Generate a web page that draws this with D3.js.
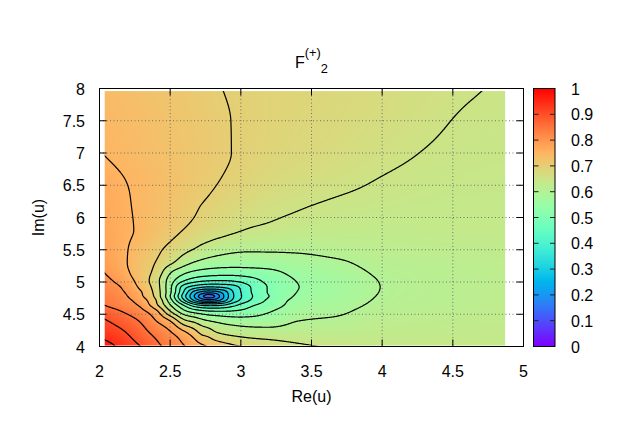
<!DOCTYPE html>
<html><head><meta charset="utf-8">
<script src="https://cdn.jsdelivr.net/npm/d3@7"></script>
<style>
body{margin:0;background:#fff}
svg{display:block}
text{font-family:"Liberation Sans",Arial,sans-serif;font-size:16px;fill:#000}
</style>
</head><body>
<svg id="chart" width="623" height="436"></svg>
<script>
// ---- data ----
const reU = [2.0, 2.15, 2.3, 2.4, 2.5, 2.6, 2.67, 2.72, 2.77, 2.82, 2.87, 2.95, 3.05, 3.2, 3.4, 3.7, 4.0, 4.3, 4.6, 4.9];
const imU = [4.0, 4.2, 4.4, 4.55, 4.65, 4.72, 4.78, 4.84, 4.92, 5.02, 5.15, 5.3, 5.5, 5.8, 6.2, 6.6, 7.0, 7.5, 8.0];
const F_row_400 = [0.985, 0.939, 0.897, 0.863, 0.832, 0.803, 0.779, 0.763, 0.748, 0.737, 0.726, 0.709, 0.694, 0.678, 0.659, 0.644, 0.639, 0.637, 0.636, 0.635];
const F_row_420 = [0.935, 0.912, 0.868, 0.838, 0.808, 0.765, 0.727, 0.695, 0.682, 0.66, 0.648, 0.638, 0.63, 0.626, 0.625, 0.626, 0.628, 0.63, 0.631, 0.632];
const F_row_440 = [0.912, 0.88, 0.842, 0.80, 0.748, 0.66, 0.635, 0.615, 0.60, 0.59, 0.582, 0.575, 0.572, 0.575, 0.599, 0.607, 0.621, 0.624, 0.627, 0.628];
const F_row_455 = [0.88, 0.85, 0.81, 0.76, 0.65, 0.56, 0.525, 0.51, 0.50, 0.497, 0.497, 0.502, 0.515, 0.545, 0.58, 0.594, 0.614, 0.619, 0.622, 0.626];
const F_row_465 = [0.855, 0.825, 0.785, 0.71, 0.60, 0.485, 0.41, 0.38, 0.37, 0.372, 0.385, 0.43, 0.48, 0.52, 0.568, 0.586, 0.608, 0.615, 0.618, 0.624];
const F_row_472 = [0.845, 0.82, 0.77, 0.70, 0.57, 0.40, 0.29, 0.235, 0.215, 0.225, 0.265, 0.365, 0.44, 0.51, 0.561, 0.581, 0.605, 0.613, 0.618, 0.623];
const F_row_478 = [0.84, 0.815, 0.755, 0.685, 0.55, 0.367, 0.25, 0.17, 0.12, 0.155, 0.235, 0.35, 0.43, 0.50, 0.555, 0.578, 0.603, 0.612, 0.617, 0.622];
const F_row_484 = [0.835, 0.808, 0.75, 0.68, 0.56, 0.39, 0.28, 0.235, 0.215, 0.225, 0.26, 0.355, 0.435, 0.505, 0.551, 0.5756, 0.6016, 0.612, 0.617, 0.622];
const F_row_492 = [0.825, 0.80, 0.735, 0.675, 0.562, 0.42, 0.375, 0.355, 0.345, 0.347, 0.355, 0.38, 0.44, 0.505, 0.548, 0.5744, 0.6009, 0.611, 0.617, 0.622];
const F_row_502 = [0.82, 0.785, 0.725, 0.67, 0.575, 0.50, 0.47, 0.458, 0.452, 0.449, 0.449, 0.455, 0.475, 0.515, 0.552, 0.5762, 0.602, 0.612, 0.617, 0.622];
const F_row_515 = [0.808, 0.77, 0.72, 0.685, 0.605, 0.56, 0.54, 0.532, 0.527, 0.524, 0.522, 0.522, 0.527, 0.538, 0.564, 0.583, 0.6064, 0.613, 0.618, 0.623];
const F_row_530 = [0.795, 0.762, 0.722, 0.698, 0.66, 0.618, 0.597, 0.587, 0.58, 0.576, 0.573, 0.571, 0.571, 0.574, 0.582, 0.595, 0.613, 0.616, 0.62, 0.625];
const F_row_550 = [0.785, 0.76, 0.73, 0.71, 0.687, 0.662, 0.647, 0.635, 0.626, 0.619, 0.614, 0.608, 0.605, 0.605, 0.606, 0.614, 0.62, 0.623, 0.625, 0.628];
const F_row_580 = [0.777, 0.76, 0.743, 0.728, 0.713, 0.698, 0.688, 0.681, 0.675, 0.669, 0.664, 0.656, 0.647, 0.641, 0.635, 0.631, 0.63, 0.631, 0.632, 0.633];
const F_row_620 = [0.77, 0.758, 0.742, 0.734, 0.724, 0.713, 0.706, 0.70, 0.695, 0.69, 0.686, 0.68, 0.673, 0.662, 0.654, 0.645, 0.64, 0.637, 0.636, 0.636];
const F_row_660 = [0.763, 0.752, 0.742, 0.735, 0.728, 0.72, 0.715, 0.711, 0.707, 0.703, 0.699, 0.693, 0.687, 0.677, 0.669, 0.659, 0.649, 0.643, 0.64, 0.639];
const F_row_700 = [0.751, 0.743, 0.736, 0.73, 0.725, 0.72, 0.716, 0.713, 0.71, 0.707, 0.704, 0.699, 0.694, 0.686, 0.679, 0.669, 0.658, 0.649, 0.643, 0.641];
const F_row_750 = [0.745, 0.738, 0.732, 0.727, 0.722, 0.717, 0.714, 0.711, 0.708, 0.705, 0.703, 0.699, 0.695, 0.69, 0.684, 0.675, 0.666, 0.656, 0.647, 0.643];
const F_row_800 = [0.74, 0.733, 0.727, 0.722, 0.718, 0.714, 0.71, 0.707, 0.705, 0.702, 0.70, 0.697, 0.693, 0.69, 0.687, 0.679, 0.671, 0.662, 0.653, 0.646];
const contourLevels = [0.15, 0.2, 0.25, 0.3, 0.35, 0.4, 0.45, 0.5, 0.55, 0.6, 0.65, 0.7, 0.75, 0.8, 0.85, 0.9, 0.95];
const xTickValues = [2, 2.5, 3, 3.5, 4, 4.5, 5];
const yTickValues = [4, 4.5, 5, 5.5, 6, 6.5, 7, 7.5, 8];
const cbTickValues = [0, 0.1, 0.2, 0.3, 0.4, 0.5, 0.6, 0.7, 0.8, 0.9, 1];
const heatRe = [2.037, 4.87];
const heatIm = [4.015, 7.96];
const xLabel = "Re(u)", yLabel = "Im(u)";

const F = [F_row_400, F_row_420, F_row_440, F_row_455, F_row_465, F_row_472, F_row_478, F_row_484,
  F_row_492, F_row_502, F_row_515, F_row_530, F_row_550, F_row_580, F_row_620, F_row_660, F_row_700, F_row_750, F_row_800];

// ---- layout ----
const svg = d3.select("#chart");
const x = d3.scaleLinear().domain([2, 5]).range([99.5, 523.5]);
const y = d3.scaleLinear().domain([4, 8]).range([346.5, 88.5]);

function palette(t) {
  t = Math.max(0, Math.min(1, t));
  const r = Math.min(1, Math.abs(2 * t - 0.5));
  const g = Math.max(0, Math.sin(Math.PI * t));
  const b = Math.max(0, Math.cos(Math.PI * t / 2));
  return [Math.round(r * 255), Math.round(g * 255), Math.round(b * 255)];
}
function clamp(v, a, b) { return Math.max(a, Math.min(b, v)); }

// monotone (Steffen) cubic interpolation through the read values
function tangents(xs, ys) {
  const n = xs.length, h = [], d = [], m = new Array(n);
  for (let k = 0; k < n - 1; k++) { h[k] = xs[k + 1] - xs[k]; d[k] = (ys[k + 1] - ys[k]) / h[k]; }
  m[0] = d[0]; m[n - 1] = d[n - 2];
  for (let k = 1; k < n - 1; k++) {
    const p = (d[k - 1] * h[k] + d[k] * h[k - 1]) / (h[k - 1] + h[k]);
    m[k] = (Math.sign(d[k - 1]) + Math.sign(d[k])) * Math.min(Math.abs(d[k - 1]), Math.abs(d[k]), 0.5 * Math.abs(p));
  }
  return m;
}
function hermite(xs, ys, ms, u) {
  u = clamp(u, xs[0], xs[xs.length - 1]);
  const i = clamp(d3.bisectRight(xs, u) - 1, 0, xs.length - 2);
  const hh = xs[i + 1] - xs[i], t = (u - xs[i]) / hh, t2 = t * t, t3 = t2 * t;
  return (2 * t3 - 3 * t2 + 1) * ys[i] + (t3 - 2 * t2 + t) * hh * ms[i] +
         (-2 * t3 + 3 * t2) * ys[i + 1] + (t3 - t2) * hh * ms[i + 1];
}
const rowTangents = F.map(r => tangents(reU, r));
function columnAt(u) {
  const col = F.map((r, j) => hermite(reU, r, rowTangents[j], u));
  return { col, m: tangents(imU, col) };
}
function valueInColumn(c, v) { return hermite(imU, c.col, c.m, v); }

// ---- heat map ----
const hx0 = x(heatRe[0]), hx1 = x(heatRe[1]), hy0 = y(heatIm[1]), hy1 = y(heatIm[0]);
const W = Math.round(hx1 - hx0), H = Math.round(hy1 - hy0);
const canvas = document.createElement("canvas");
canvas.width = W; canvas.height = H;
const ctx = canvas.getContext("2d");
const img = ctx.createImageData(W, H);
for (let i = 0; i < W; i++) {
  const c = columnAt(x.invert(hx0 + (i + 0.5) * (hx1 - hx0) / W));
  for (let j = 0; j < H; j++) {
    const v = y.invert(hy0 + (j + 0.5) * (hy1 - hy0) / H);
    const col = palette(valueInColumn(c, v));
    const k = 4 * (j * W + i);
    img.data[k] = col[0]; img.data[k + 1] = col[1]; img.data[k + 2] = col[2]; img.data[k + 3] = 255;
  }
}
ctx.putImageData(img, 0, 0);
svg.append("image").attr("x", hx0).attr("y", hy0).attr("width", hx1 - hx0).attr("height", hy1 - hy0)
  .attr("preserveAspectRatio", "none").attr("href", canvas.toDataURL());

// ---- grid ----
const gridG = svg.append("g").attr("stroke", "#707070").attr("stroke-width", 1).attr("stroke-dasharray", "1,2.5");
xTickValues.slice(1, -1).forEach(t => gridG.append("line").attr("x1", x(t)).attr("x2", x(t)).attr("y1", y(8)).attr("y2", y(4)));
yTickValues.slice(1, -1).forEach(t => gridG.append("line").attr("x1", x(2)).attr("x2", x(5)).attr("y1", y(t)).attr("y2", y(t)));

// ---- contours ----
const cx0 = Math.floor(x(2.0)) - 4, cx1 = Math.ceil(x(4.9)) + 4;
const cy0 = Math.floor(y(8)) - 4, cy1 = Math.ceil(y(4)) + 4;
const nx = cx1 - cx0, ny = cy1 - cy0;
const vals = new Float64Array(nx * ny);
for (let i = 0; i < nx; i++) {
  const c = columnAt(x.invert(cx0 + i + 0.5));
  for (let j = 0; j < ny; j++) vals[j * nx + i] = valueInColumn(c, y.invert(cy0 + j + 0.5));
}
const contours = d3.contours().size([nx, ny]).thresholds(contourLevels)(vals);
const proj = d3.geoTransform({ point(px, py) { this.stream.point(cx0 + px, cy0 + py); } });
const cpath = d3.geoPath(proj);
svg.append("clipPath").attr("id", "heatClip").append("rect")
  .attr("x", hx0).attr("y", hy0).attr("width", hx1 - hx0).attr("height", hy1 - hy0);
svg.append("g").attr("clip-path", "url(#heatClip)")
  .selectAll("path").data(contours).join("path")
  .attr("d", cpath).attr("fill", "none").attr("stroke", "#000").attr("stroke-width", 1.2);

// ---- frame & ticks ----
svg.append("rect").attr("x", x(2)).attr("y", y(8)).attr("width", x(5) - x(2)).attr("height", y(4) - y(8))
  .attr("fill", "none").attr("stroke", "#000").attr("stroke-width", 1);
const tl = 7;
const tickG = svg.append("g").attr("stroke", "#000").attr("stroke-width", 1);
xTickValues.forEach(t => {
  tickG.append("line").attr("x1", x(t)).attr("x2", x(t)).attr("y1", y(4)).attr("y2", y(4) - tl);
  tickG.append("line").attr("x1", x(t)).attr("x2", x(t)).attr("y1", y(8)).attr("y2", y(8) + tl);
});
yTickValues.forEach(t => {
  tickG.append("line").attr("x1", x(2)).attr("x2", x(2) + tl).attr("y1", y(t)).attr("y2", y(t));
  tickG.append("line").attr("x1", x(5)).attr("x2", x(5) - tl).attr("y1", y(t)).attr("y2", y(t));
});
svg.append("g").selectAll("text").data(xTickValues).join("text")
  .attr("x", d => x(d)).attr("y", 377).attr("text-anchor", "middle").text(d => d);
svg.append("g").selectAll("text").data(yTickValues).join("text")
  .attr("x", 85).attr("y", d => y(d) + 6).attr("text-anchor", "end").text(d => d);
svg.append("text").attr("x", (x(2) + x(5)) / 2).attr("y", 402).attr("text-anchor", "middle").text(xLabel);
svg.append("text").attr("transform", `translate(44,${(y(4) + y(8)) / 2}) rotate(-90)`).attr("text-anchor", "middle").text(yLabel);

// ---- title ----
const title = svg.append("text").attr("x", 311.5).attr("y", 68).attr("text-anchor", "middle");
title.append("tspan").text("F");
title.append("tspan").attr("dy", -11).attr("font-size", "12.8px").text("(+)");
title.append("tspan").attr("dy", 16).attr("font-size", "12.8px").text("2");

// ---- colorbar ----
const cb = d3.scaleLinear().domain([0, 1]).range([346.5, 88.5]);
const cbx0 = 533.5, cbx1 = 555;
const grad = svg.append("defs").append("linearGradient").attr("id", "cbGrad")
  .attr("x1", 0).attr("y1", 1).attr("x2", 0).attr("y2", 0);
d3.range(0, 101).forEach(k => {
  const c = palette(k / 100);
  grad.append("stop").attr("offset", (k / 100)).attr("stop-color", `rgb(${c[0]},${c[1]},${c[2]})`);
});
svg.append("rect").attr("x", cbx0).attr("y", cb(1)).attr("width", cbx1 - cbx0).attr("height", cb(0) - cb(1))
  .attr("fill", "url(#cbGrad)").attr("stroke", "#000").attr("stroke-width", 1);
const cbT = svg.append("g").attr("stroke", "#222").attr("stroke-width", 1);
cbTickValues.slice(1, -1).forEach(t => {
  cbT.append("line").attr("x1", cbx0).attr("x2", cbx0 + 5).attr("y1", cb(t)).attr("y2", cb(t));
  cbT.append("line").attr("x1", cbx1 - 5).attr("x2", cbx1).attr("y1", cb(t)).attr("y2", cb(t));
});
svg.append("g").selectAll("text").data(cbTickValues).join("text")
  .attr("x", 571).attr("y", d => cb(d) + 6).attr("text-anchor", "start").text(d => d);
</script>
</body></html>
